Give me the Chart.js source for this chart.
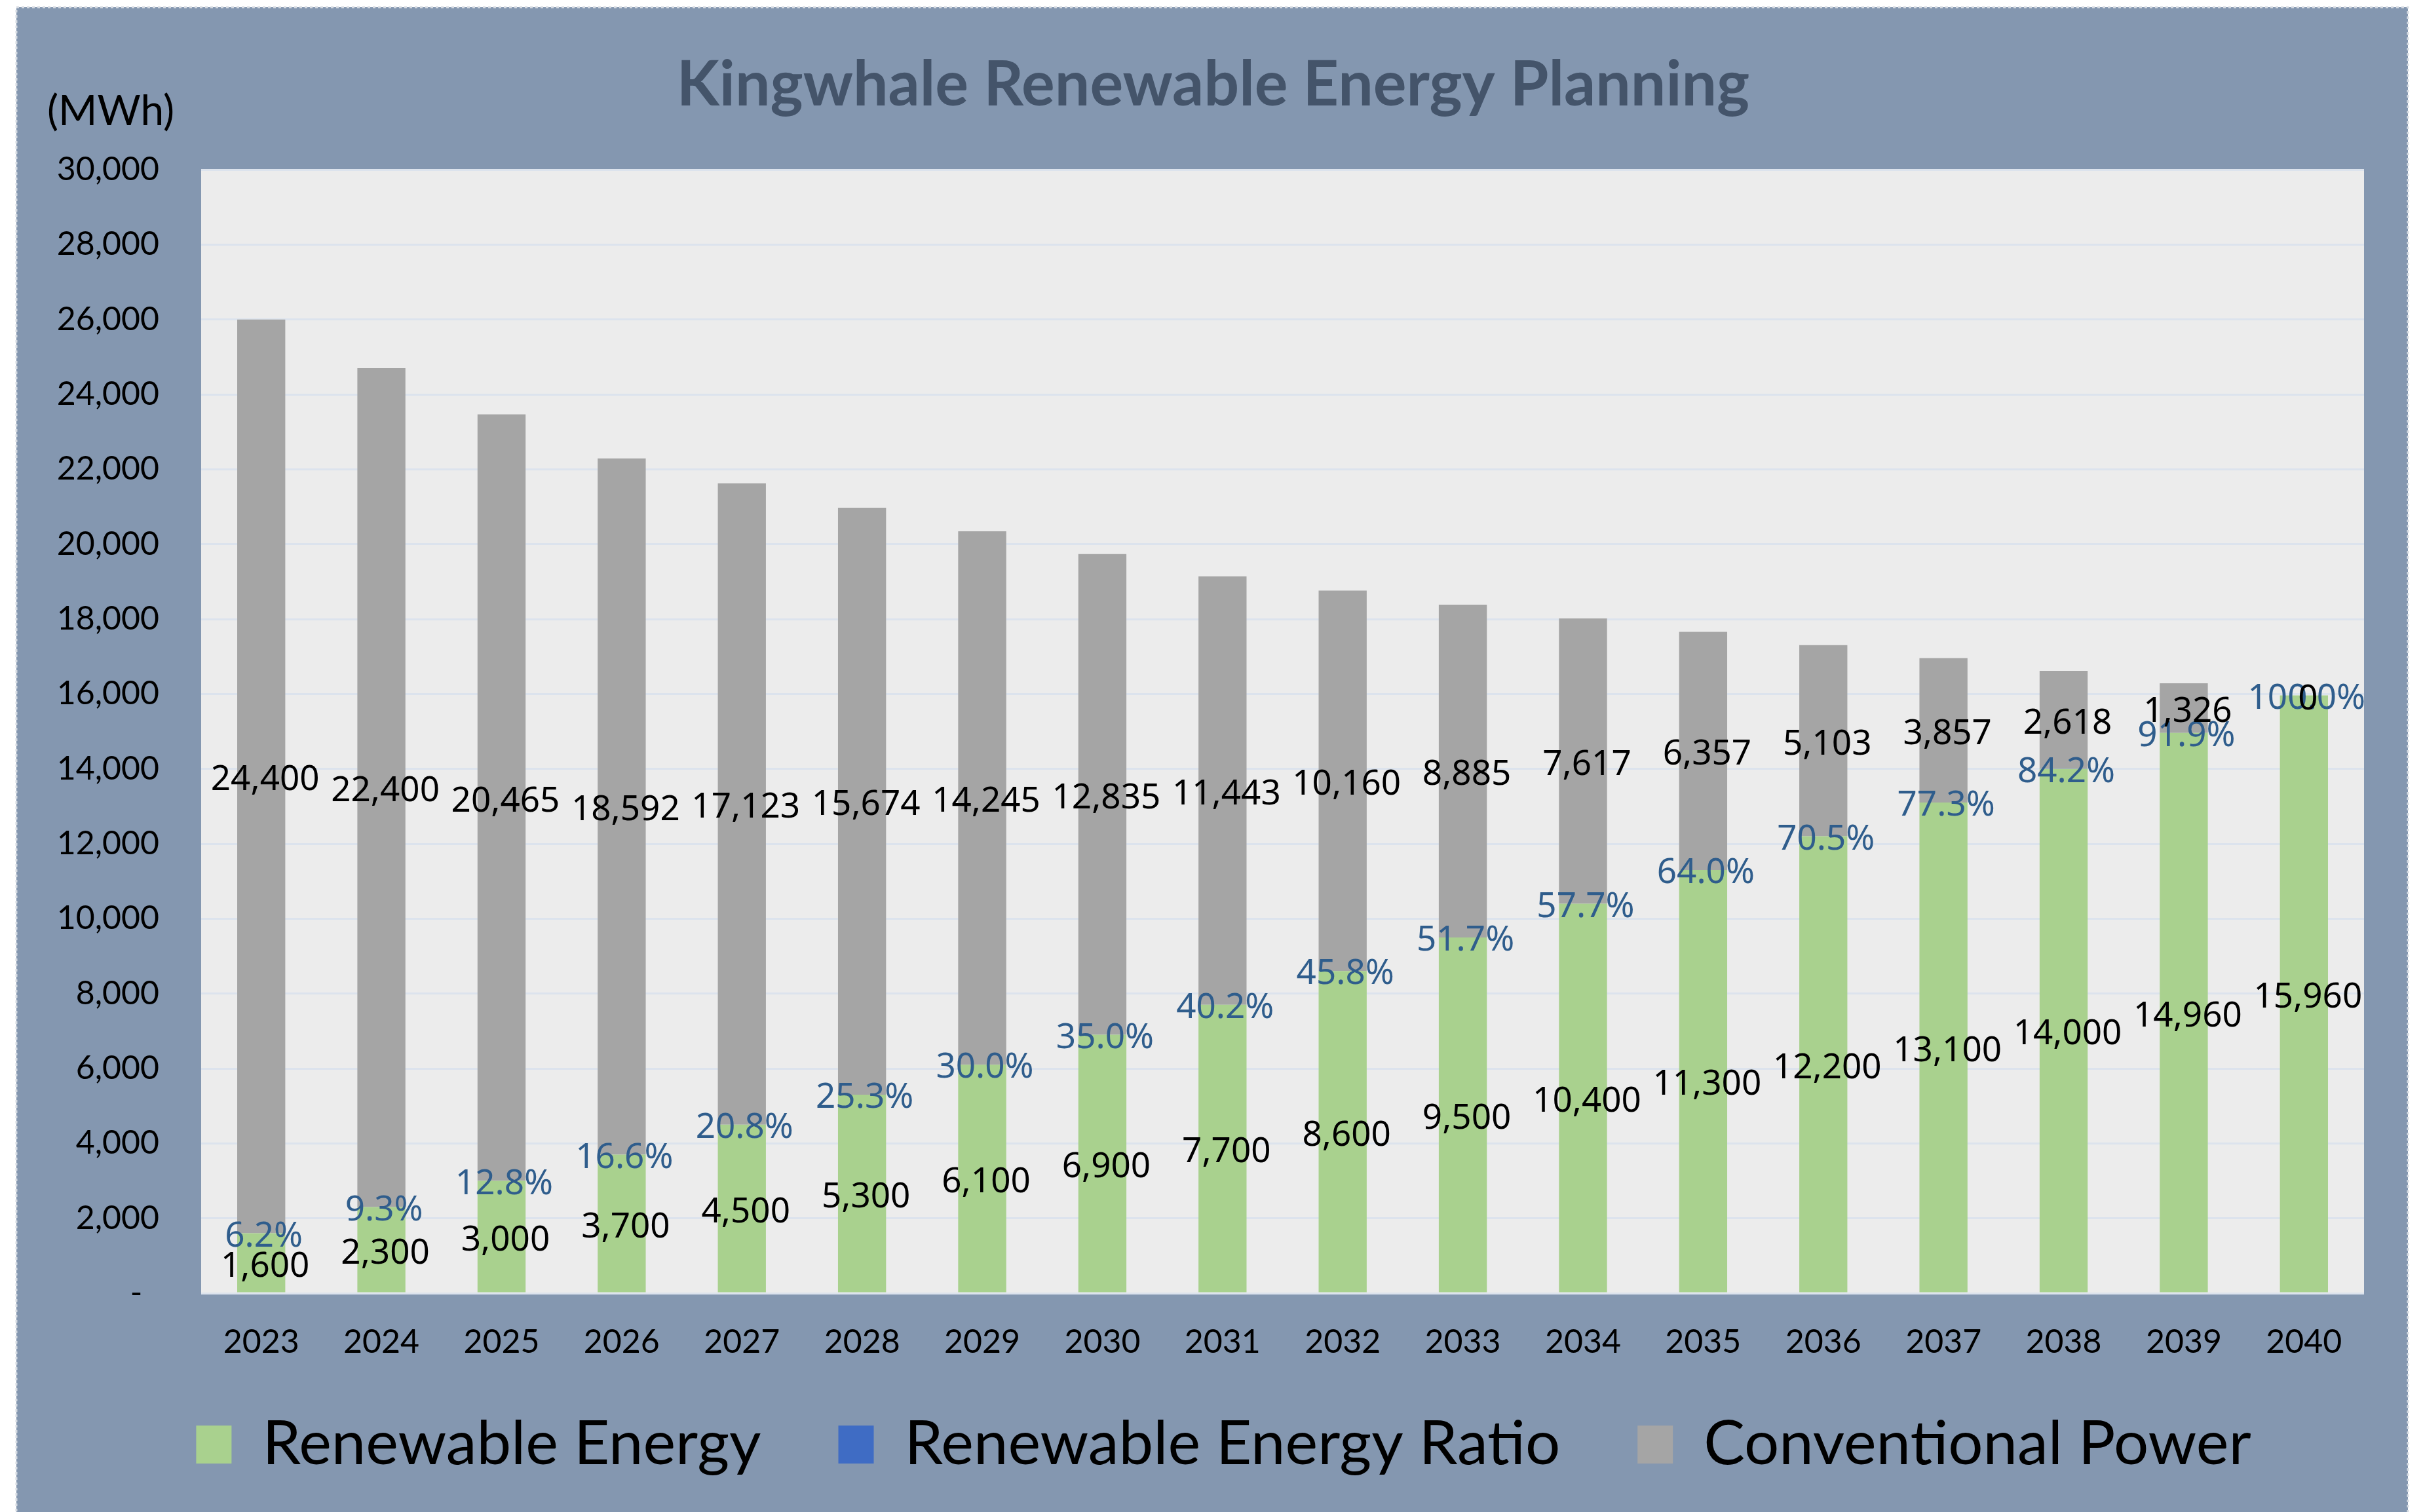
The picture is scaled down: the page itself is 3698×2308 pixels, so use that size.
<!DOCTYPE html>
<html lang="en">
<head>
  <meta charset="UTF-8">
  <title>Kingwhale Renewable Energy Planning</title>
  <script src="https://cdn.jsdelivr.net/npm/chart.js"></script>
  <style>
    html, body {
      margin: 0;
      padding: 0;
      background: #ffffff;
    }
    canvas {
      display: block;
    }
  </style>
</head>
<body>
  <canvas id="chart" width="3698" height="2308"></canvas>

  <script>
    const years = ['2023', '2024', '2025', '2026', '2027', '2028', '2029', '2030', '2031',
                   '2032', '2033', '2034', '2035', '2036', '2037', '2038', '2039', '2040'];
    const renewable = [1600, 2300, 3000, 3700, 4500, 5300, 6100, 6900, 7700,
                       8600, 9500, 10400, 11300, 12200, 13100, 14000, 14960, 15960];
    const ratioPct = [6.2, 9.3, 12.8, 16.6, 20.8, 25.3, 30.0, 35.0, 40.2,
                      45.8, 51.7, 57.7, 64.0, 70.5, 77.3, 84.2, 91.9, 100.0];
    const conventional = [24400, 22400, 20465, 18592, 17123, 15674, 14245, 12835, 11443,
                          10160, 8885, 7617, 6357, 5103, 3857, 2618, 1326, 0];
    const yMax = 30000;
    const yStep = 2000;

    const fmt = v => v.toLocaleString('en-US');

    // blue chart background, plot area fill
    const background = {
      id: 'background',
      beforeDraw(chart) {
        const ctx = chart.ctx;
        const a = chart.chartArea;
        ctx.save();
        ctx.fillStyle = '#ffffff';
        ctx.fillRect(0, 0, chart.width, chart.height);
        ctx.fillStyle = '#8497b0';
        ctx.fillRect(25, 11, 3650, chart.height);
        ctx.strokeStyle = '#d6dbe2';
        ctx.lineWidth = 3;
        ctx.setLineDash([4, 4]);
        ctx.strokeRect(25, 11, 3650, chart.height + 10);
        ctx.setLineDash([]);
        ctx.fillStyle = '#ececec';
        ctx.fillRect(a.left, a.top, a.right - a.left, a.bottom - a.top);
        ctx.restore();
      }
    };

    // nudge title and legend to where the original puts them
    const nudge = {
      id: 'nudge',
      afterLayout(chart) {
        const t = chart.titleBlock;
        if (t) { t.left += 35; t.right += 35; }
        const l = chart.legend;
        if (l) { l.left += 51; l.right += 51; l.top -= 35; l.bottom -= 35; }
      }
    };

    // data labels drawn at the centre of each segment
    const valueLabels = {
      id: 'valueLabels',
      afterDatasetsDraw(chart) {
        const ctx = chart.ctx;
        ctx.save();
        ctx.textAlign = 'center';
        ctx.textBaseline = 'middle';
        chart.data.datasets.forEach((ds, i) => {
          const meta = chart.getDatasetMeta(i);
          meta.data.forEach((bar, j) => {
            const y = (bar.y + bar.base) / 2;
            if (i === 1) {
              ctx.font = '53px "Noto Sans"';
              ctx.fillStyle = '#2f5d8c';
              ctx.fillText(ratioPct[j].toFixed(1) + '%', bar.x + 4, y + 5);
            } else {
              ctx.font = '53px "Noto Sans"';
              ctx.fillStyle = '#000000';
              ctx.fillText(fmt(ds.data[j]), bar.x + 6, y + 6);
            }
          });
        });
        ctx.restore();
      }
    };

    // unit label above the y axis
    const unitLabel = {
      id: 'unitLabel',
      afterDraw(chart) {
        const ctx = chart.ctx;
        ctx.save();
        ctx.font = '64px Lato';
        ctx.fillStyle = '#000000';
        ctx.textAlign = 'center';
        ctx.textBaseline = 'middle';
        ctx.fillText('(MWh)', 169, 170);
        ctx.restore();
      }
    };

    function draw() {
      new Chart(document.getElementById('chart'), {
        type: 'bar',
        data: {
          labels: years,
          datasets: [
            {
              label: 'Renewable Energy',
              data: renewable,
              backgroundColor: '#a9d18e',
              stack: 's'
            },
            {
              label: 'Renewable Energy Ratio',
              data: ratioPct.map(p => p / 100),
              backgroundColor: '#3f6cc4',
              stack: 's'
            },
            {
              label: 'Conventional Power',
              data: conventional,
              backgroundColor: '#a5a5a5',
              stack: 's'
            }
          ]
        },
        options: {
          responsive: false,
          animation: false,
          events: [],
          datasets: {
            bar: {
              barPercentage: 0.4,
              categoryPercentage: 1.0,
              borderWidth: 0
            }
          },
          layout: {
            padding: { left: 25, right: 90, top: 11, bottom: 11 }
          },
          scales: {
            x: {
              stacked: true,
              grid: { display: false },
              border: { display: false },
              ticks: {
                color: '#000000',
                font: { family: 'Lato', size: 50, lineHeight: 1.0 },
                padding: 42,
                maxRotation: 0
              },
              afterFit(scale) { scale.height = 101; }
            },
            y: {
              stacked: true,
              min: 0,
              max: yMax,
              grid: { color: '#dce3ed', lineWidth: 3, drawTicks: false },
              border: { display: false },
              ticks: {
                stepSize: yStep,
                color: '#000000',
                font: { family: 'Lato', size: 50 },
                padding: 64,
                callback: v => v === 0 ? '-  ' : fmt(v)
              },
              afterFit(scale) { scale.width = 282; }
            }
          },
          plugins: {
            tooltip: { enabled: false },
            title: {
              display: true,
              text: 'Kingwhale Renewable Energy Planning',
              color: '#44546a',
              font: { family: 'Lato', size: 95, weight: 'bold', lineHeight: 1.2 },
              padding: { top: 62, bottom: 72 }
            },
            legend: {
              position: 'bottom',
              labels: {
                color: '#000000',
                font: { family: 'Lato', size: 94 },
                boxWidth: 54,
                boxHeight: 58,
                padding: 118
              }
            }
          }
        },
        plugins: [background, nudge, valueLabels, unitLabel]
      });
    }

    Promise.all([
      document.fonts.load('bold 95px Lato'),
      document.fonts.load('50px Lato'),
      document.fonts.load('53px "Noto Sans"')
    ]).then(draw, draw);
  </script>
</body>
</html>
